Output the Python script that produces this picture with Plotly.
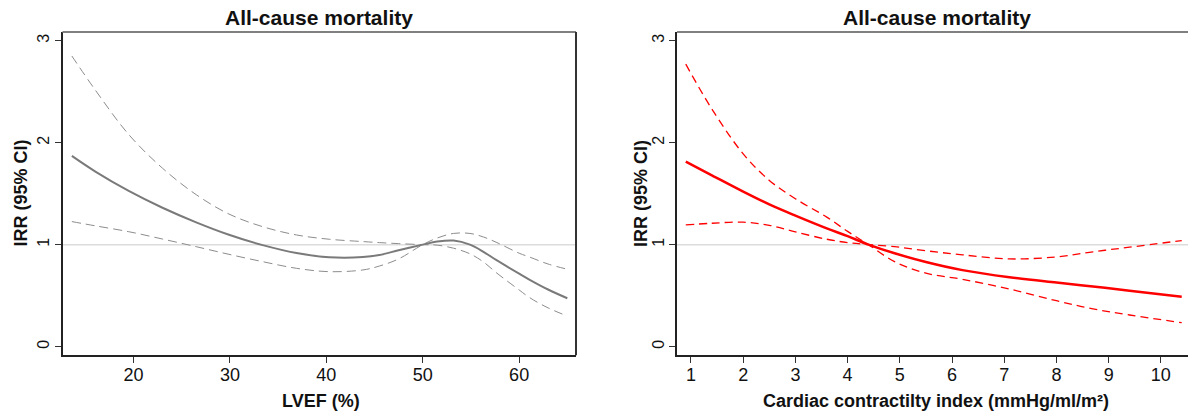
import plotly.graph_objects as go

# ---------------- data ----------------
# Left panel: LVEF (%)
lvef_x = [13.6, 16.0, 19.5, 23.0, 26.5, 29.9, 33.4, 36.9, 40.3, 43.8, 45.5, 47.5,
          50.0, 51.5, 53.2, 54.9, 56.3, 57.7, 60.0, 61.1, 63.0, 65.0]
lvef_irr = [1.87, 1.719, 1.527, 1.362, 1.219, 1.097, 0.995, 0.918, 0.876, 0.878, 0.899, 0.945,
            1.0, 1.03, 1.04, 1.0, 0.93, 0.845, 0.715, 0.655, 0.56, 0.474]
# the two CI bounds cross at the reference value (50)
lvef_ci_a = [2.85, 2.52, 2.08, 1.75, 1.49, 1.30, 1.176, 1.095, 1.053, 1.03, 1.02, 1.01,
             1.0, 0.995, 0.965, 0.91, 0.83, 0.72, 0.556, 0.48, 0.38, 0.30]
lvef_ci_b = [1.226, 1.185, 1.127, 1.055, 0.98, 0.905, 0.833, 0.768, 0.735, 0.752, 0.79, 0.86,
             1.0, 1.065, 1.11, 1.11, 1.075, 1.02, 0.916, 0.878, 0.81, 0.759]

# Right panel: Cardiac contractility index
cci_x = [0.9, 1.4, 2.0, 2.5, 3.0, 3.6, 4.0, 4.4, 4.9, 5.5, 6.2, 7.1, 8.0, 8.7, 9.4, 10.4]
cci_irr = [1.814, 1.68, 1.52, 1.395, 1.285, 1.16, 1.083, 1.0, 0.915, 0.83, 0.75, 0.68,
           0.628, 0.59, 0.547, 0.49]
# the two CI bounds cross at the reference value (~4.4)
cci_ci_a = [2.77, 2.33, 1.89, 1.63, 1.45, 1.27, 1.13, 1.0, 0.833, 0.72, 0.66, 0.565,
            0.45, 0.37, 0.31, 0.235]
cci_ci_b = [1.193, 1.21, 1.22, 1.19, 1.125, 1.053, 1.02, 1.0, 0.98, 0.94, 0.90, 0.86,
            0.88, 0.93, 0.975, 1.04]

lvef_ticks = [20, 30, 40, 50, 60]
cci_ticks = [1, 2, 3, 4, 5, 6, 7, 8, 9, 10]
y_ticks = [0, 1, 2, 3]

title_text = "All-cause mortality"
ytitle_text = "IRR (95% CI)"
xtitle_left = "LVEF (%)"
xtitle_right = "Cardiac contractilty index (mmHg/ml/m²)"

# ---------------- figure ----------------
W, H = 1188, 414
FONT = "Liberation Sans, Arial, sans-serif"


def fx(p):
    return p / W


def fy(p):
    return 1 - p / H


fig = go.Figure()

grey = "#7a7a7a"
grey_d = "#8c8c8c"
red = "#ff0000"

fig.add_trace(go.Scatter(x=lvef_x, y=lvef_ci_a, mode="lines", xaxis="x", yaxis="y",
                         line=dict(color=grey_d, width=1, dash="9px,5px", shape="spline")))
fig.add_trace(go.Scatter(x=lvef_x, y=lvef_ci_b, mode="lines", xaxis="x", yaxis="y",
                         line=dict(color=grey_d, width=1, dash="9px,5px", shape="spline")))
fig.add_trace(go.Scatter(x=lvef_x, y=lvef_irr, mode="lines", xaxis="x", yaxis="y",
                         line=dict(color=grey, width=2, shape="spline")))

fig.add_trace(go.Scatter(x=cci_x, y=cci_ci_a, mode="lines", xaxis="x2", yaxis="y2",
                         line=dict(color=red, width=1.3, dash="8px,5px", shape="spline")))
fig.add_trace(go.Scatter(x=cci_x, y=cci_ci_b, mode="lines", xaxis="x2", yaxis="y2",
                         line=dict(color=red, width=1.3, dash="8px,5px", shape="spline")))
fig.add_trace(go.Scatter(x=cci_x, y=cci_irr, mode="lines", xaxis="x2", yaxis="y2",
                         line=dict(color=red, width=2.5, shape="spline")))

ydom = [fy(355.3), fy(32)]
axis_common = dict(showgrid=False, zeroline=False, showline=True, linecolor="#222222",
                   linewidth=2, ticks="outside", ticklen=6, tickwidth=1.3, tickcolor="#333333",
                   fixedrange=True)

fig.update_layout(
    width=W, height=H,
    margin=dict(l=0, r=0, t=0, b=0),
    paper_bgcolor="white", plot_bgcolor="white",
    showlegend=False,
    font=dict(family=FONT, color="#111111"),
    xaxis=dict(domain=[fx(62.5), fx(576)], range=[12.63, 65.9], anchor="y",
               tickvals=lvef_ticks, tickfont=dict(size=18, color="#111"),
               ticklabelstandoff=-4, **axis_common),
    yaxis=dict(domain=ydom, range=[-0.085, 3.085], anchor="x",
               tickvals=y_ticks, tickangle=-90, tickfont=dict(size=16, color="#111"),
               ticklabelstandoff=-1, **axis_common),
    xaxis2=dict(domain=[fx(677), 1.0], range=[0.732, 10.52], anchor="y2",
                tickvals=cci_ticks, tickfont=dict(size=18, color="#111"),
                ticklabelstandoff=-4, **axis_common),
    yaxis2=dict(domain=ydom, range=[-0.085, 3.085], anchor="x2",
                tickvals=y_ticks, tickangle=-90, tickfont=dict(size=16, color="#111"),
                ticklabelstandoff=-1, **axis_common),
)

shapes = []
for xr, yr in (("x", "y"), ("x2", "y2")):
    # reference line at IRR = 1
    shapes.append(dict(type="line", xref=f"{xr} domain", x0=0, x1=1, yref=yr, y0=1, y1=1,
                       line=dict(color="#dcdcdc", width=1.5), layer="below"))
    # top frame line
    shapes.append(dict(type="line", xref=f"{xr} domain", x0=0, x1=1,
                       yref=f"{yr} domain", y0=1, y1=1,
                       line=dict(color="#808080", width=2)))
# right frame line of the left panel
shapes.append(dict(type="line", xref="x domain", x0=1, x1=1, yref="y domain", y0=0, y1=1,
                   line=dict(color="#333333", width=2)))
fig.update_layout(shapes=shapes)

ann = []
for cx in (319, 937):
    ann.append(dict(text=f"<b>{title_text}</b>", x=fx(cx), y=fy(18), xref="paper", yref="paper",
                    xanchor="center", yanchor="middle", showarrow=False,
                    font=dict(size=21, family=FONT, color="#111")))
for cx in (20, 640.5):
    ann.append(dict(text=f"<b>{ytitle_text}</b>", x=fx(cx), y=fy(193.5), xref="paper",
                    yref="paper", xanchor="center", yanchor="middle", showarrow=False,
                    textangle=-90, font=dict(size=18, family=FONT, color="#111")))
ann.append(dict(text=f"<b>{xtitle_left}</b>", x=fx(321), y=fy(401), xref="paper", yref="paper",
                xanchor="center", yanchor="middle", showarrow=False,
                font=dict(size=18, family=FONT, color="#111")))
ann.append(dict(text=f"<b>{xtitle_right}</b>", x=fx(936), y=fy(401), xref="paper", yref="paper",
                xanchor="center", yanchor="middle", showarrow=False,
                font=dict(size=18, family=FONT, color="#111")))
fig.update_layout(annotations=ann)

fig.write_html("out.html")
